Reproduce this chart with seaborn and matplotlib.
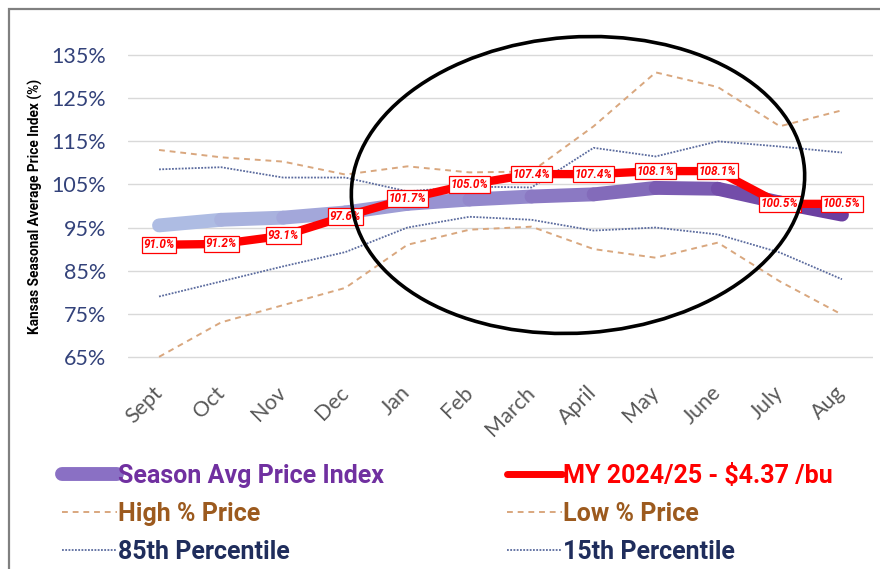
import numpy as np
import pandas as pd
import matplotlib
matplotlib.use("Agg")
import matplotlib.pyplot as plt
import seaborn as sns
from matplotlib.collections import LineCollection
from matplotlib.colors import LinearSegmentedColormap
from matplotlib.lines import Line2D
from matplotlib.patches import Ellipse, Rectangle

# Chart data
months = ["Sept", "Oct", "Nov", "Dec", "Jan", "Feb", "March", "April", "May", "June", "July", "Aug"]
season_avg = [95.5, 96.8, 97.3, 98.5, 100.5, 101.5, 102.2, 102.7, 104.2, 104.0, 100.8, 98.0]
my_2425 = [91.0, 91.2, 93.1, 97.6, 101.7, 105.0, 107.4, 107.4, 108.1, 108.1, 100.5, 100.5]
high_pct = [113.0, 111.3, 110.3, 107.3, 109.2, 107.8, 108.0, 118.5, 131.0, 127.6, 118.5, 122.2]
low_pct = [65.0, 73.0, 77.0, 81.0, 91.0, 94.5, 95.2, 90.0, 88.0, 91.5, 82.5, 74.8]
p85 = [108.5, 109.0, 106.6, 106.6, 103.4, 104.5, 104.3, 113.5, 111.5, 115.0, 113.8, 112.4]
p15 = [79.0, 82.5, 86.0, 89.3, 95.0, 97.5, 96.8, 94.3, 95.0, 93.4, 89.2, 83.0]
y_ticks = [65, 75, 85, 95, 105, 115, 125, 135]

df = pd.DataFrame({
    "pos": np.arange(len(months)),
    "season": season_avg,
    "my": my_2425,
    "high": high_pct,
    "low": low_pct,
    "p85": p85,
    "p15": p15,
})

sns.set_theme(style="white")
plt.rcParams["font.family"] = ["Lato", "DejaVu Sans"]
BOLD = ["Roboto", "DejaVu Sans"]

fig = plt.figure(figsize=(8.8, 5.69), dpi=100)
ax = fig.add_axes([128 / 880, 1 - 359 / 569, 745 / 880, 306 / 569])

TAN = "#D9A77E"
SLATE = "#5B6B9E"

# bands / reference lines
sns.lineplot(data=df, x="pos", y="high", ax=ax, color=TAN, lw=1.4, zorder=2)
sns.lineplot(data=df, x="pos", y="low", ax=ax, color=TAN, lw=1.4, zorder=2)
sns.lineplot(data=df, x="pos", y="p85", ax=ax, color=SLATE, lw=1.3, zorder=2)
sns.lineplot(data=df, x="pos", y="p15", ax=ax, color=SLATE, lw=1.3, zorder=2)
for ln in ax.lines[:2]:
    ln.set_dashes([3, 2.5])
for ln in ax.lines[2:4]:
    ln.set_dashes([1, 0.8])

# season average: thick band with a left-to-right gradient
grad = LinearSegmentedColormap.from_list("grad", ["#AEBCE3", "#9388CC", "#6B3FA0"])
pts = np.column_stack([df["pos"], df["season"]])
segs = np.stack([pts[:-1], pts[1:]], axis=1)
lc = LineCollection(segs, colors=grad(np.linspace(0, 1, len(segs))), linewidths=10,
                    capstyle="round", joinstyle="round", zorder=3)
ax.add_collection(lc)

# current marketing year
sns.lineplot(data=df, x="pos", y="my", ax=ax, color="#FF0000", lw=6, zorder=4)
ax.lines[-1].set_solid_joinstyle("round")
for x, v in zip(df["pos"], df["my"]):
    ax.text(x, v, f"{v:.1f}%", ha="center", va="center", color="#FF0000", fontsize=8.5,
            fontweight="bold", fontstyle="italic", family=BOLD, zorder=5,
            bbox=dict(boxstyle="square,pad=0.15", fc="white", ec="#FF0000", lw=0.9))

ax.set_xlim(-0.5, 11.5)
ax.set_ylim(64.5, 135.5)
ax.set_yticks(y_ticks)
ax.set_yticklabels([f"{t}%" for t in y_ticks], color="#33427A", fontsize=15.5)
ax.set_xticks(df["pos"])
ax.set_xticklabels(months, rotation=45, ha="right", va="center", rotation_mode="anchor",
                   color="#595959", fontsize=15.5)
ax.tick_params(axis="x", pad=22, length=0)
ax.tick_params(axis="y", pad=16, length=0)
ax.grid(axis="y", color="#D9D9D9", lw=1)
ax.set_axisbelow(True)
for s in ax.spines.values():
    s.set_visible(False)
ax.set_xlabel("")
ax.set_ylabel("Kansas Seasonal Average Price Index (%)", fontsize=9.8, fontweight="bold",
              family=BOLD, color="black")
ax.yaxis.set_label_coords(-0.114, 0.5)

# hand-drawn style highlight ellipse (inches, figure space)
fig.add_artist(Ellipse((5.78, 5.69 - 1.85), 4.54, 2.96, angle=4, fill=False, ec="black",
                       lw=2.6, transform=fig.dpi_scale_trans))

# outer frame
fig.add_artist(Rectangle((9 / 880, -0.1), 1.2, 1.1 - 9 / 569, fill=False, ec="#808080", lw=1.6,
                         transform=fig.transFigure))

handles = [
    Line2D([], [], color="#8A70C4", lw=10, solid_capstyle="round"),
    Line2D([], [], color=TAN, lw=1.4, dashes=[3, 2.5]),
    Line2D([], [], color=SLATE, lw=1.3, dashes=[1, 0.8]),
    Line2D([], [], color="#FF0000", lw=5, solid_capstyle="round"),
    Line2D([], [], color=TAN, lw=1.4, dashes=[3, 2.5]),
    Line2D([], [], color=SLATE, lw=1.3, dashes=[1, 0.8]),
]
labels = ["Season Avg Price Index", "High % Price", "85th Percentile",
          "MY 2024/25 - $4.37 /bu", "Low % Price", "15th Percentile"]
label_colors = ["#7030A0", "#9C5A1E", "#1F2D5C", "#FF0000", "#9C5A1E", "#1F2D5C"]
leg = fig.legend(handles, labels, loc="upper left", bbox_to_anchor=(62 / 880, 1 - 464 / 569),
                 ncol=2, frameon=False, handlelength=2.2, handletextpad=0.05,
                 columnspacing=4.9, labelspacing=0.56, borderpad=0, borderaxespad=0,
                 prop={"weight": "bold", "size": 18, "family": BOLD})
for t, c in zip(leg.get_texts(), label_colors):
    t.set_color(c)

fig.savefig("out.png", dpi=100)
